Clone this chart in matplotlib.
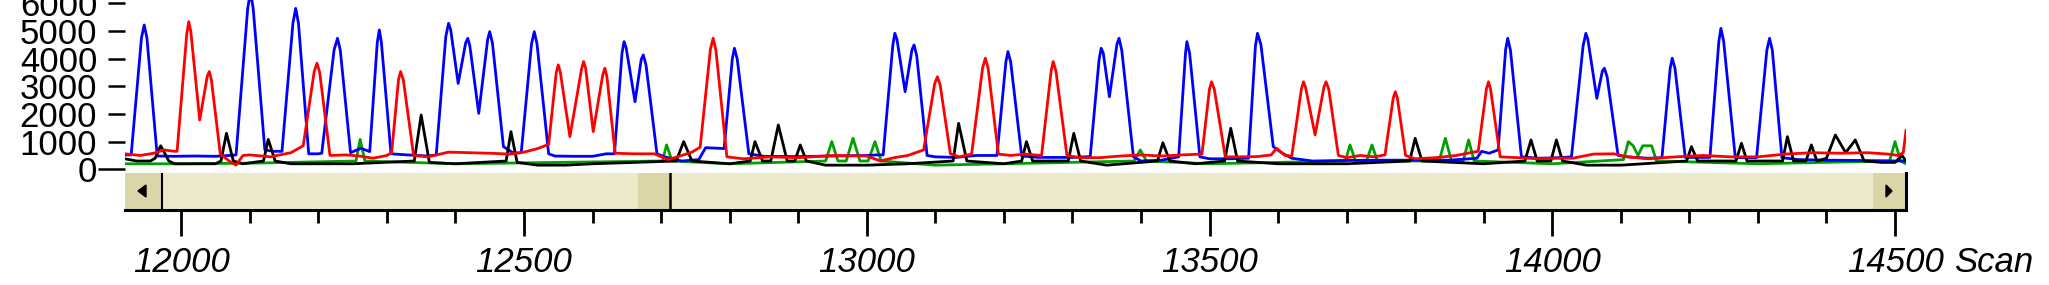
import matplotlib
matplotlib.use("Agg")
import matplotlib.pyplot as plt
from matplotlib.patches import Rectangle, Polygon

# ---------------- data (scan, signal) ----------------
blue_trace = [(11918,520),(11927,520),(11942,4740),(11946,5210),(11950,4740),(11965,480),(11990,470),(12020,480),
    (12050,470),(12070,500),(12080,520),(12097,5810),(12101,6400),(12105,5810),(12122,700),(12135,650),
    (12147,650),(12163,5280),(12167,5810),(12171,5280),(12186,560),(12200,560),(12205,580),(12223,4310),
    (12228,4730),(12232,4310),(12247,600),(12262,760),(12275,640),(12286,4580),(12289,5030),(12292,4580),
    (12306,560),(12330,520),(12360,480),(12372,520),(12386,4800),(12390,5270),(12393,5050),(12404,3100),
    (12415,4570),(12418,4730),(12421,4460),(12434,2020),(12447,4680),(12450,4970),(12454,4560),(12470,820),
    (12485,580),(12496,600),(12511,4530),(12515,4970),(12519,4530),(12536,560),(12545,480),(12570,470),
    (12600,470),(12620,560),(12632,560),(12643,4200),(12646,4610),(12649,4390),(12662,2440),(12671,3960),
    (12674,4130),(12678,3770),(12694,560),(12705,450),(12730,300),(12755,350),(12765,780),(12785,760),
    (12792,750),(12804,4010),(12807,4370),(12811,3990),(12828,560),(12850,470),(12900,460),(12950,480),
    (13000,500),(13015,520),(13024,520),(13038,4470),(13041,4910),(13044,4700),(13056,2800),(13066,4320),
    (13069,4490),(13073,4090),(13088,500),(13100,450),(13130,430),(13160,500),(13190,500),(13203,3880),
    (13206,4250),(13210,3870),(13226,480),(13250,430),(13300,430),(13326,460),(13339,3980),(13342,4370),
    (13345,4200),(13354,2620),(13365,4520),(13368,4730),(13372,4300),(13389,450),(13400,300),(13430,330),
    (13455,450),(13465,4190),(13467,4610),(13471,4190),(13486,450),(13500,380),(13530,380),(13557,400),
    (13567,4460),(13570,4910),(13575,4500),(13593,820),(13605,600),(13620,400),(13650,300),(13700,320),
    (13750,330),(13800,330),(13850,330),(13890,400),(13897,650),(13908,580),(13921,700),(13932,4330),
    (13935,4730),(13939,4300),(13955,450),(13980,400),(14010,420),(14028,450),(14045,4460),(14049,4910),
    (14052,4680),(14065,2560),(14073,3540),(14076,3650),(14080,3340),(14096,500),(14110,450),(14140,400),
    (14160,420),(14172,3650),(14175,4010),(14179,3650),(14194,430),(14230,430),(14243,4620),(14246,5090),
    (14250,4620),(14267,420),(14298,420),(14313,4300),(14317,4730),(14321,4300),(14335,420),(14360,350),
    (14400,330),(14450,320),(14500,300),(14516,300)]

red_trace = [(11918,560),(11940,500),(11960,580),(11975,700),(11990,650),(11994,650),(12008,4860),(12011,5330),
    (12014,4980),(12027,1780),(12038,3360),(12041,3530),(12044,3230),(12057,550),(12070,300),(12080,150),
    (12090,500),(12100,520),(12130,450),(12160,600),(12178,850),(12194,3530),(12198,3830),(12202,3500),
    (12217,500),(12240,520),(12260,480),(12280,400),(12300,500),(12307,600),(12317,3240),(12320,3530),
    (12324,3230),(12339,500),(12360,450),(12390,620),(12420,600),(12450,580),(12480,550),(12500,620),
    (12520,750),(12536,900),(12547,3480),(12550,3770),(12553,3510),(12567,1180),(12584,3620),(12587,3890),
    (12590,3640),(12601,1360),(12615,3420),(12618,3650),(12621,3340),(12633,580),(12660,560),(12690,560),
    (12710,350),(12730,500),(12745,620),(12757,800),(12772,4340),(12776,4730),(12780,4300),(12796,450),
    (12820,380),(12860,450),(12900,420),(12950,500),(13000,480),(13020,300),(13040,420),(13060,500),
    (13083,700),(13099,3080),(13103,3340),(13107,3060),(13122,560),(13135,450),(13153,550),(13169,3660),
    (13173,4010),(13177,3660),(13192,550),(13210,500),(13230,550),(13255,500),(13269,3550),(13272,3890),
    (13276,3550),(13292,500),(13310,420),(13340,420),(13370,480),(13400,520),(13430,480),(13460,520),
    (13489,550),(13500,2900),(13503,3160),(13507,2890),(13523,450),(13540,450),(13570,460),(13590,520),
    (13598,760),(13610,500),(13620,480),(13634,2890),(13637,3160),(13640,2970),(13654,1240),(13667,2970),
    (13670,3160),(13674,2890),(13688,500),(13700,420),(13720,500),(13740,450),(13756,520),(13768,2570),
    (13771,2800),(13774,2570),(13786,500),(13800,380),(13830,420),(13860,500),(13880,600),(13892,650),
    (13904,2910),(13907,3160),(13910,2890),(13924,450),(13950,420),(13980,380),(14000,400),(14030,400),
    (14060,550),(14090,560),(14110,450),(14140,380),(14180,450),(14220,500),(14260,450),(14300,450),
    (14340,550),(14380,600),(14420,580),(14460,600),(14490,550),(14505,500),(14512,600),(14516,1400)]

black_trace = [(11918,380),(11935,300),(11955,300),(11962,400),(11970,850),(11982,300),(11990,200),(12050,200),
    (12058,300),(12066,1300),(12076,300),(12090,200),(12120,300),(12127,1080),(12137,300),(12160,200),
    (12250,200),(12340,300),(12350,1960),(12362,250),(12400,200),(12474,300),(12481,1360),(12490,250),
    (12520,150),(12560,150),(12600,200),(12722,300),(12733,1000),(12745,300),(12800,200),(12830,300),
    (12837,1000),(12848,300),(12860,300),(12871,1600),(12884,300),(12895,300),(12903,880),(12912,300),
    (12940,150),(13000,150),(13060,200),(13126,300),(13134,1660),(13146,300),(13200,200),(13226,300),
    (13233,1000),(13242,300),(13294,300),(13302,1300),(13312,300),(13350,150),(13424,300),(13432,960),
    (13442,300),(13480,200),(13522,300),(13531,1480),(13541,300),(13600,200),(13700,200),(13792,300),
    (13800,1120),(13810,300),(13900,200),(13960,300),(13969,1060),(13978,300),(13998,300),(14006,1060),
    (14015,300),(14050,150),(14100,150),(14196,300),(14203,820),(14212,300),(14268,300),(14276,940),
    (14284,300),(14336,300),(14343,1180),(14352,300),(14370,300),(14378,880),(14386,300),(14400,400),
    (14413,1240),(14428,600),(14442,1060),(14455,300),(14480,250),(14500,250),(14510,500),(14516,300)]

green_trace = [(11918,200),(12000,200),(12100,220),(12255,300),(12261,1080),(12268,300),(12400,200),(12702,300),
    (12708,880),(12716,300),(12800,200),(12940,300),(12949,1000),(12958,300),(12970,300),(12980,1120),
    (12990,300),(13002,300),(13012,1000),(13021,300),(13100,150),(13200,200),(13390,300),(13399,700),
    (13408,300),(13500,200),(13698,300),(13705,880),(13713,300),(13729,300),(13737,880),(13745,300),
    (13835,300),(13844,1120),(13853,300),(13870,300),(13878,1060),(13886,300),(14000,200),(14104,350),
    (14111,1000),(14118,850),(14125,500),(14132,850),(14145,850),(14152,300),(14300,200),(14492,300),
    (14500,1000),(14508,300),(14516,200)]

y_ticks = [0, 1000, 2000, 3000, 4000, 5000, 6000]
x_major = [12000, 12500, 13000, 13500, 14000, 14500]
x_labels = ["12000", "12500", "13000", "13500", "14000", "14500"]
x_minor_step = 100
x_range = (11918, 14516)
y_range = (-133, 6112)

# ---------------- figure ----------------
plt.rcParams['font.family'] = ['Liberation Sans', 'DejaVu Sans']
W, H = 2049, 285
fig = plt.figure(figsize=(W / 100, H / 100), dpi=100)
fig.patch.set_facecolor('white')

def fx(px):
    return px / W

def fy(py):
    return 1 - py / H

PL, PR, PT, PB = 125, 1906, 0, 173
ax = fig.add_axes([fx(PL), fy(PB), fx(PR) - fx(PL), fy(PT) - fy(PB)])
ax.set_xlim(*x_range)
ax.set_ylim(*y_range)
for s in ax.spines.values():
    s.set_visible(False)

for trace, col in [(green_trace, '#00A000'), (blue_trace, '#0000FF'),
                   (black_trace, '#000000'), (red_trace, '#FF0000')]:
    xs = [p[0] for p in trace]
    ys = [p[1] for p in trace]
    ax.plot(xs, ys, color=col, lw=2.0, solid_joinstyle='round')

ax.set_xticks([])
ax.set_yticks(y_ticks)
ax.set_yticklabels([str(v) for v in y_ticks])
ax.tick_params(axis='y', direction='out', length=12, width=1.8, pad=8,
               labelsize=25, colors='black')
ax.yaxis.get_major_ticks()[0].tick1line.set_markersize(19.5)

# ---------------- scrollbar with the x axis ----------------
SB_T, SB_B = 173, 210
sb = fig.add_axes([fx(PL), fy(SB_B), fx(PR) - fx(PL), fy(SB_T) - fy(SB_B)])
sb.set_xlim(*x_range)
sb.set_ylim(0, 1)
sb.set_facecolor('#EDEACB')
for k in ['top', 'left']:
    sb.spines[k].set_visible(False)
for k in ['bottom', 'right']:
    sb.spines[k].set_linewidth(2.2)
    sb.spines[k].set_color('black')
sb.set_yticks([])

def ax_x(px):
    return (px - PL) / (PR - PL)

def ax_y(py):
    return (SB_B - py) / (SB_B - SB_T)

btn = '#DAD6A8'
# left button
sb.add_patch(Rectangle((ax_x(125), 0), ax_x(162) - ax_x(125), 1, transform=sb.transAxes,
                       facecolor=btn, edgecolor='none'))
sb.plot([ax_x(162), ax_x(162)], [0, ax_y(173)], transform=sb.transAxes, color='black', lw=1.5)
sb.add_patch(Polygon([(ax_x(138), ax_y(191)), (ax_x(146), ax_y(185)), (ax_x(146), ax_y(197))],
                     closed=True, transform=sb.transAxes, facecolor='black', edgecolor='black'))
# thumb
sb.add_patch(Rectangle((ax_x(638), 0), ax_x(670) - ax_x(638), 1, transform=sb.transAxes,
                       facecolor=btn, edgecolor='none'))
sb.plot([ax_x(670), ax_x(670)], [0, ax_y(173)], transform=sb.transAxes, color='black', lw=1.8)
# right button
sb.add_patch(Rectangle((ax_x(1873), 0), ax_x(1906) - ax_x(1873), 1, transform=sb.transAxes,
                       facecolor=btn, edgecolor='none'))
sb.add_patch(Polygon([(ax_x(1892), ax_y(191)), (ax_x(1886), ax_y(185)), (ax_x(1886), ax_y(197))],
                     closed=True, transform=sb.transAxes, facecolor='black', edgecolor='black'))

minor = [v for v in range(12000, 14600, x_minor_step) if v not in x_major and x_range[0] <= v <= x_range[1]]
sb.set_xticks(x_major)
sb.set_xticklabels(x_labels, fontstyle='italic')
sb.set_xticks(minor, minor=True)
sb.tick_params(axis='x', which='major', direction='out', length=19, width=2, pad=7,
               labelsize=25, colors='black')
sb.tick_params(axis='x', which='minor', direction='out', length=9, width=2)

fig.text(fx(1954), fy(271.7), "Scan", fontsize=25, fontstyle='italic', ha='left', va='baseline')

fig.savefig("out.png", dpi=100)
